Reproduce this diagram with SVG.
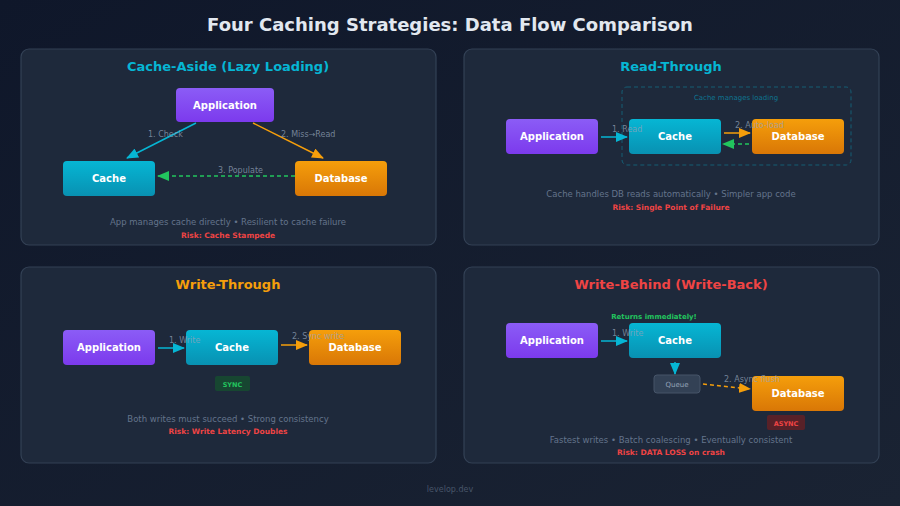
<svg xmlns="http://www.w3.org/2000/svg" width="900" height="506" viewBox="0 0 900 506">
<defs>
<linearGradient id="bg" x1="0" y1="0" x2="1" y2="1"><stop offset="0" stop-color="#0f172a"/><stop offset="1" stop-color="#1a2333"/></linearGradient>
<linearGradient id="gp" x1="0" y1="0" x2="0" y2="1"><stop offset="0" stop-color="#8b5cf6"/><stop offset="1" stop-color="#7c3aed"/></linearGradient>
<linearGradient id="gc" x1="0" y1="0" x2="0" y2="1"><stop offset="0" stop-color="#06b6d4"/><stop offset="1" stop-color="#0891b2"/></linearGradient>
<linearGradient id="go" x1="0" y1="0" x2="0" y2="1"><stop offset="0" stop-color="#f59e0b"/><stop offset="1" stop-color="#d97706"/></linearGradient>
<marker id="ac" markerWidth="12" markerHeight="10" refX="11" refY="5" orient="auto" markerUnits="userSpaceOnUse"><path d="M0,0 L12,5 L0,10Z" fill="#06b6d4"/></marker>
<marker id="ao" markerWidth="12" markerHeight="10" refX="11" refY="5" orient="auto" markerUnits="userSpaceOnUse"><path d="M0,0 L12,5 L0,10Z" fill="#f59e0b"/></marker>
<marker id="ag" markerWidth="12" markerHeight="10" refX="11" refY="5" orient="auto" markerUnits="userSpaceOnUse"><path d="M0,0 L12,5 L0,10Z" fill="#22c55e"/></marker>
</defs>
<style>
text{font-family:"DejaVu Sans",sans-serif}
.panel{fill:#1e293b;stroke:#334155;stroke-width:1.2}
.pt{font-size:13px;font-weight:bold;text-anchor:middle}
.nl{font-size:10px;font-weight:bold;fill:#fff;text-anchor:middle}
.el{font-size:8px;fill:#94a3b8;fill-opacity:0.75}
.desc{font-size:8.5px;fill:#64748b;text-anchor:middle}
.risk{font-size:7.5px;font-weight:bold;fill:#ef4444;text-anchor:middle}
</style>
<rect width="900" height="506" fill="url(#bg)"/>
<text x="450" y="31" text-anchor="middle" font-size="18" font-weight="bold" fill="#e2e8f0">Four Caching Strategies: Data Flow Comparison</text>
<rect class="panel" x="21" y="49" width="415" height="196" rx="8"/>
<rect class="panel" x="464" y="49" width="415" height="196" rx="8"/>
<rect class="panel" x="21" y="267" width="415" height="196" rx="8"/>
<rect class="panel" x="464" y="267" width="415" height="196" rx="8"/>
<text class="pt" x="228" y="71" fill="#06b6d4">Cache-Aside (Lazy Loading)</text>
<text class="pt" x="671" y="71" fill="#06b6d4">Read-Through</text>
<text class="pt" x="228" y="289" fill="#f59e0b">Write-Through</text>
<text class="pt" x="671" y="289" fill="#ef4444">Write-Behind (Write-Back)</text>
<rect x="622" y="87" width="229" height="78" rx="5" fill="none" stroke="#155e75" stroke-dasharray="4,3"/>
<text x="736" y="100" font-size="7" fill="#0e7490" text-anchor="middle">Cache manages loading</text>
<g id="connectors" fill="none" stroke-width="1.5">
<line x1="196" y1="123" x2="127" y2="158" stroke="#06b6d4" marker-end="url(#ac)"/>
<line x1="253" y1="123" x2="323" y2="158" stroke="#f59e0b" marker-end="url(#ao)"/>
<line x1="295" y1="176" x2="158" y2="176" stroke="#22c55e" stroke-dasharray="4,3" marker-end="url(#ag)"/>
<line x1="601" y1="137" x2="627" y2="137" stroke="#06b6d4" marker-end="url(#ac)"/>
<line x1="724" y1="133" x2="750" y2="133" stroke="#f59e0b" marker-end="url(#ao)"/>
<line x1="749" y1="144" x2="723" y2="144" stroke="#22c55e" stroke-dasharray="4,3" marker-end="url(#ag)"/>
<line x1="158" y1="348" x2="184" y2="348" stroke="#06b6d4" marker-end="url(#ac)"/>
<line x1="281" y1="345" x2="307" y2="345" stroke="#f59e0b" marker-end="url(#ao)"/>
<line x1="601" y1="341" x2="627" y2="341" stroke="#06b6d4" marker-end="url(#ac)"/>
<line x1="675" y1="362" x2="675" y2="374" stroke="#06b6d4" marker-end="url(#ac)"/>
<line x1="703" y1="384" x2="750" y2="389" stroke="#f59e0b" stroke-dasharray="4,3" marker-end="url(#ao)"/>
</g>
<g id="a1"><rect x="176" y="88" width="98" height="34" rx="4" fill="url(#gp)"/><text class="nl" x="225" y="109">Application</text></g>
<g id="c1"><rect x="63" y="161" width="92" height="35" rx="4" fill="url(#gc)"/><text class="nl" x="109" y="182">Cache</text></g>
<g id="d1"><rect x="295" y="161" width="92" height="35" rx="4" fill="url(#go)"/><text class="nl" x="341" y="182">Database</text></g>
<g id="a2"><rect x="506" y="119" width="92" height="35" rx="4" fill="url(#gp)"/><text class="nl" x="552" y="140">Application</text></g>
<g id="c2"><rect x="629" y="119" width="92" height="35" rx="4" fill="url(#gc)"/><text class="nl" x="675" y="140">Cache</text></g>
<g id="d2"><rect x="752" y="119" width="92" height="35" rx="4" fill="url(#go)"/><text class="nl" x="798" y="140">Database</text></g>
<g id="a3"><rect x="63" y="330" width="92" height="35" rx="4" fill="url(#gp)"/><text class="nl" x="109" y="351">Application</text></g>
<g id="c3"><rect x="186" y="330" width="92" height="35" rx="4" fill="url(#gc)"/><text class="nl" x="232" y="351">Cache</text></g>
<g id="d3"><rect x="309" y="330" width="92" height="35" rx="4" fill="url(#go)"/><text class="nl" x="355" y="351">Database</text></g>
<g id="sync"><rect x="215" y="376" width="35" height="15" rx="2" fill="#14532d" opacity="0.7"/><text x="232.5" y="386.5" font-size="6.5" font-weight="bold" fill="#22c55e" text-anchor="middle">SYNC</text></g>
<g id="a4"><rect x="506" y="323" width="92" height="35" rx="4" fill="url(#gp)"/><text class="nl" x="552" y="344">Application</text></g>
<g id="c4"><rect x="629" y="323" width="92" height="35" rx="4" fill="url(#gc)"/><text class="nl" x="675" y="344">Cache</text></g>
<text x="654" y="319" font-size="7" font-weight="bold" fill="#22c55e" text-anchor="middle">Returns immediately!</text>
<g id="q4"><rect x="654" y="375" width="46" height="18" rx="3" fill="#334155" stroke="#475569"/><text x="677" y="387" font-size="7" fill="#94a3b8" text-anchor="middle">Queue</text></g>
<g id="d4"><rect x="752" y="376" width="92" height="35" rx="4" fill="url(#go)"/><text class="nl" x="798" y="397">Database</text></g>
<g id="async"><rect x="767" y="415" width="38" height="15" rx="2" fill="#7f1d1d" opacity="0.6"/><text x="786" y="425.5" font-size="6.5" font-weight="bold" fill="#ef4444" text-anchor="middle">ASYNC</text></g>
<text class="el" x="148" y="137">1. Check</text>
<text class="el" x="281" y="137">2. Miss→Read</text>
<text class="el" x="218" y="173">3. Populate</text>
<text class="el" x="612" y="132">1. Read</text>
<text class="el" x="735" y="128">2. Auto-load</text>
<text class="el" x="169" y="343">1. Write</text>
<text class="el" x="292" y="339">2. Sync write</text>
<text class="el" x="612" y="336">1. Write</text>
<text class="el" x="724" y="382">2. Async flush</text>
<text class="desc" x="228" y="225">App manages cache directly • Resilient to cache failure</text>
<text class="risk" x="228" y="238">Risk: Cache Stampede</text>
<text class="desc" x="671" y="197">Cache handles DB reads automatically • Simpler app code</text>
<text class="risk" x="671" y="210">Risk: Single Point of Failure</text>
<text class="desc" x="228" y="422">Both writes must succeed • Strong consistency</text>
<text class="risk" x="228" y="434">Risk: Write Latency Doubles</text>
<text class="desc" x="671" y="443">Fastest writes • Batch coalescing • Eventually consistent</text>
<text class="risk" x="671" y="455">Risk: DATA LOSS on crash</text>
<text x="450" y="492" font-size="8" fill="#475569" text-anchor="middle">levelop.dev</text>
</svg>
